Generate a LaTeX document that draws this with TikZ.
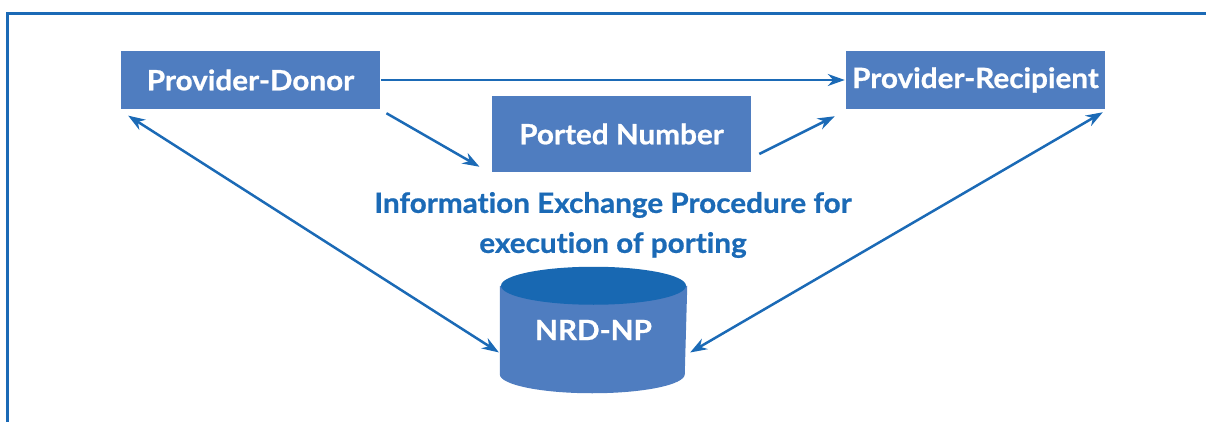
\documentclass[tikz,border=0pt]{standalone}
\usepackage{fontspec}
\setmainfont{Lato}[Ligatures=NoCommon, BoldFeatures={FakeStretch=1.06, FakeBold=0.8}]
\usetikzlibrary{arrows.meta,calc,backgrounds}
\definecolor{boxblue}{HTML}{4F7DC0}
\definecolor{lineblue}{HTML}{1B6AB6}
\definecolor{topblue}{HTML}{1868B2}

\begin{document}
\begin{tikzpicture}[
            x = 1pt, y = -1pt, % pixel-like units, y going down
            > = {Stealth[length=17pt,width=12pt]}, % arrow head style
            line width = 2.5pt, % line style
            box/.style = {fill=boxblue, text=white, inner sep=0pt,
                          font=\fontsize{28}{32}\selectfont\bfseries,
                          minimum width=259pt, minimum height=58pt},
            link/.style = {draw=lineblue}
        ]
\useasboundingbox (0,0) rectangle (1206,422);
\draw[lineblue, line width=3pt] (1206,14) -- (7.5,14) -- (7.5,422);

\node[box] (D) at (250.5,80) {Provider-Donor};
\node[box] (R) at (975.5,80) {Provider-Recipient};
\node[box, minimum height=76pt] (P) at (621.5,134) {Ported Number};
\node[text=lineblue, align=center, font=\fontsize{28}{40}\selectfont\bfseries] (I) at (613,225)
     {Information Exchange Procedure for\\execution of porting};
\node[text=white, font=\fontsize{28}{32}\selectfont\bfseries, minimum width=185pt, minimum height=124pt,
      inner sep=0pt] (N) at (593.5,330) {\raisebox{-3pt}{NRD-NP}};

% the drum behind the NRD-NP label
\begin{scope}[on background layer]
\fill[boxblue] ([yshift=-19pt]N.north west) -- ([yshift=19pt]N.south west)
    arc[start angle=180, end angle=360, x radius=92.5pt, y radius=19pt]
    -- ([yshift=-19pt]N.north east) -- cycle;
\fill[topblue] ([yshift=-19pt]N.north) ellipse[x radius=92.5pt, y radius=19pt];
\end{scope}

 \path (D) edge[link, ->] (R);
 \path (D.south east) edge[link, ->, shorten <=6pt, shorten >=13pt] (P.south west);
 \path ($(P.east)+(7,20)$) edge[link, ->] ($(R.south west)+(-10,6)$);
 \path (D.south west) edge[link, <->, shorten <=10pt, shorten >=1pt] ($(N.west)+(0,23)$);
 \path (R.south east) edge[link, <->, shorten <=4pt, shorten >=1pt] ($(N.east)+(2,23)$);
\end{tikzpicture}
\end{document}
